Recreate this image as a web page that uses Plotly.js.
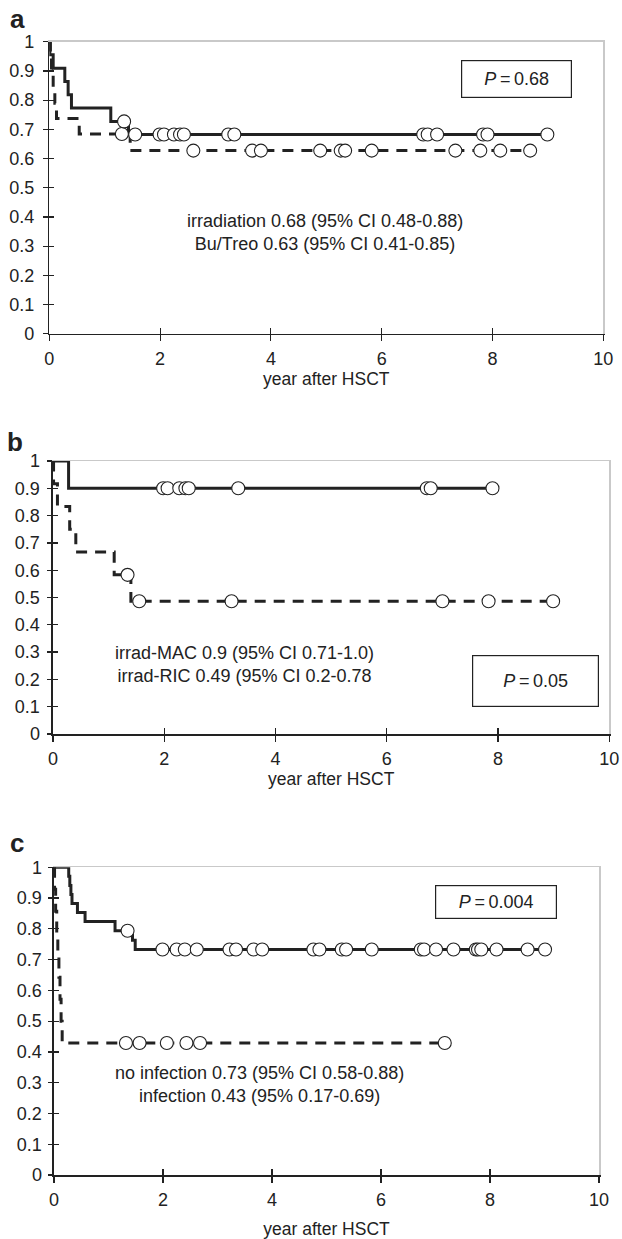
<!DOCTYPE html>
<html><head><meta charset="utf-8">
<script src="https://cdn.plot.ly/plotly-3.0.1.min.js"></script>
<style>html,body{margin:0;padding:0;background:#fff}#chart{width:622px;height:1239px}</style>
</head><body><div id="chart"></div>
<script>
// ---------- Panel a: irradiation vs Bu/Treo ----------
const aSolidEventT = [0.01, 0.07, 0.28, 0.34, 0.40, 1.11, 1.43];
const aSolidEventS = [0.955, 0.909, 0.864, 0.818, 0.773, 0.727, 0.682];
const aSolidCensT  = [1.35, 1.55, 1.99, 2.07, 2.25, 2.36, 2.43, 3.23, 3.34, 6.75, 6.83, 7.00, 7.83, 7.91, 8.99];
const aSolidCensS  = [0.727, 0.682, 0.682, 0.682, 0.682, 0.682, 0.682, 0.682, 0.682, 0.682, 0.682, 0.682, 0.682, 0.682, 0.682];
const aDashEventT  = [0.02, 0.04, 0.07, 0.10, 0.13, 0.54, 1.46];
const aDashEventS  = [0.947, 0.895, 0.842, 0.789, 0.737, 0.684, 0.627];
const aDashCensT   = [1.31, 2.60, 3.66, 3.82, 4.89, 5.26, 5.34, 5.82, 7.33, 7.78, 8.14, 8.68];
const aDashCensS   = [0.684, 0.627, 0.627, 0.627, 0.627, 0.627, 0.627, 0.627, 0.627, 0.627, 0.627, 0.627];
// ---------- Panel b: irrad-MAC vs irrad-RIC ----------
const bSolidEventT = [0.28];
const bSolidEventS = [0.90];
const bSolidCensT  = [1.98, 2.06, 2.27, 2.38, 2.44, 3.33, 6.72, 6.79, 7.90];
const bSolidCensS  = [0.90, 0.90, 0.90, 0.90, 0.90, 0.90, 0.90, 0.90, 0.90];
const bDashEventT  = [0.01, 0.08, 0.30, 0.41, 1.10, 1.40];
const bDashEventS  = [0.917, 0.833, 0.750, 0.667, 0.583, 0.486];
const bDashCensT   = [1.34, 1.55, 3.21, 7.00, 7.83, 8.99];
const bDashCensS   = [0.583, 0.486, 0.486, 0.486, 0.486, 0.486];
// ---------- Panel c: no infection vs infection ----------
const cSolidEventT = [0.27, 0.29, 0.31, 0.33, 0.43, 0.57, 1.12, 1.44, 1.49];
const cSolidEventS = [0.971, 0.941, 0.912, 0.882, 0.853, 0.824, 0.794, 0.763, 0.733];
const cSolidCensT  = [1.35, 1.99, 2.25, 2.40, 2.62, 3.22, 3.34, 3.66, 3.82, 4.76, 4.87, 5.28, 5.36, 5.83, 6.73, 6.79, 7.01, 7.33, 7.74, 7.78, 7.84, 8.12, 8.69, 9.01];
const cSolidCensS  = [0.794, 0.733, 0.733, 0.733, 0.733, 0.733, 0.733, 0.733, 0.733, 0.733, 0.733, 0.733, 0.733, 0.733, 0.733, 0.733, 0.733, 0.733, 0.733, 0.733, 0.733, 0.733, 0.733, 0.733];
const cDashEventT  = [0.01, 0.03, 0.05, 0.07, 0.09, 0.11, 0.13, 0.15];
const cDashEventS  = [0.929, 0.857, 0.786, 0.714, 0.643, 0.571, 0.500, 0.429];
const cDashCensT   = [1.32, 1.57, 2.07, 2.43, 2.68, 7.17];
const cDashCensS   = [0.429, 0.429, 0.429, 0.429, 0.429, 0.429];

const xTickVals = [0, 2, 4, 6, 8, 10];
const yTickVals = [0, 0.1, 0.2, 0.3, 0.4, 0.5, 0.6, 0.7, 0.8, 0.9, 1];
const xTitle = 'year after HSCT';
const panelLetters = ['a', 'b', 'c'];
const statTexts = [
  'irradiation 0.68 (95% CI 0.48-0.88)<br>Bu/Treo 0.63 (95% CI 0.41-0.85)',
  'irrad-MAC 0.9 (95% CI 0.71-1.0)<br>irrad-RIC 0.49 (95% CI 0.2-0.78',
  'no infection 0.73 (95% CI 0.58-0.88)<br>infection 0.43 (95% 0.17-0.69)'
];
const pTexts = ['0.68', '0.05', '0.004'];

// ---------- layout geometry (pixels) ----------
const W = 622, H = 1239;
const FONT = '"Liberation Sans", Arial, Helvetica, sans-serif';
const INK = '#222222';
const panels = [
  {l: 49.3, r: 603.3, t: 41.7, b: 333.7, letter: [17, 19], text: [325, 232.5], box: [516.5, 78.5, 111, 38], stand: 4, ylab: 5},
  {l: 53.0, r: 609.3, t: 461.0, b: 734.0, letter: [15, 442], text: [244, 664], box: [535.5, 681, 127, 52], stand: 2, ylab: 3},
  {l: 54.0, r: 599.0, t: 867.3, b: 1175.0, letter: [17, 843], text: [259, 1084.5], box: [495.5, 902, 122, 34], stand: 15, ylab: 2}
];
const px = v => v / W;
const py = v => 1 - v / H;

function stepXY(evT, evS, endT) {
  return {x: [0].concat(evT, [endT]), y: [1].concat(evS, [evS[evS.length - 1]])};
}

const data = [];
const groups = [
  [aSolidEventT, aSolidEventS, aSolidCensT, aSolidCensS, aDashEventT, aDashEventS, aDashCensT, aDashCensS],
  [bSolidEventT, bSolidEventS, bSolidCensT, bSolidCensS, bDashEventT, bDashEventS, bDashCensT, bDashCensS],
  [cSolidEventT, cSolidEventS, cSolidCensT, cSolidCensS, cDashEventT, cDashEventS, cDashCensT, cDashCensS]
];
const lineTraces = [];
groups.forEach((g, i) => {
  const xa = i === 0 ? 'x' : 'x' + (i + 1);
  const ya = i === 0 ? 'y' : 'y' + (i + 1);
  const [sT, sS, scT, scS, dT, dS, dcT, dcS] = g;
  const s = stepXY(sT, sS, Math.max(...scT));
  const d = stepXY(dT, dS, Math.max(...dcT));
  lineTraces.push(s);
  data.push({x: d.x, y: d.y, xaxis: xa, yaxis: ya, mode: 'lines', line: {shape: 'hv', color: INK, width: 3, dash: '11px,8px'}, hoverinfo: 'skip', showlegend: false});
  data.push({x: s.x, y: s.y, xaxis: xa, yaxis: ya, mode: 'lines', line: {shape: 'hv', color: INK, width: 3}, hoverinfo: 'skip', showlegend: false});
  data.push({x: dcT, y: dcS, xaxis: xa, yaxis: ya, mode: 'markers', marker: {symbol: 'circle', size: 13, color: '#ffffff', line: {color: INK, width: 1.1}}, showlegend: false});
  data.push({x: scT, y: scS, xaxis: xa, yaxis: ya, mode: 'markers', marker: {symbol: 'circle', size: 13, color: '#ffffff', line: {color: INK, width: 1.1}}, showlegend: false});
});

const layout = {
  width: W, height: H,
  margin: {l: 0, r: 0, t: 0, b: 0},
  paper_bgcolor: '#ffffff', plot_bgcolor: '#ffffff',
  font: {family: FONT, color: INK, size: 18},
  showlegend: false,
  annotations: []
};

panels.forEach((p, i) => {
  const n = i + 1;
  const xk = n === 1 ? 'xaxis' : 'xaxis' + n;
  const yk = n === 1 ? 'yaxis' : 'yaxis' + n;
  const xid = n === 1 ? 'x' : 'x' + n;
  const yid = n === 1 ? 'y' : 'y' + n;
  const xd = [px(p.l), px(p.r)];
  const yd = [py(p.b), py(p.t)];
  layout[xk] = {
    domain: xd, anchor: yid, range: [0, 10], tickvals: xTickVals, ticktext: xTickVals.map(String),
    showline: true, linecolor: '#c9c9c9', linewidth: 1.5, mirror: true,
    ticks: 'outside', ticklen: 6, tickwidth: 1.2, tickcolor: INK,
    showgrid: false, zeroline: false, fixedrange: true,
    tickfont: {family: FONT, size: 18, color: INK}, ticklabelstandoff: 2,
    title: {text: xTitle, font: {family: FONT, size: 17.5, color: INK}, standoff: p.stand}
  };
  layout[yk] = {
    domain: yd, anchor: xid, range: [0, 1], tickvals: yTickVals, ticktext: yTickVals.map(String),
    showline: true, linecolor: '#c9c9c9', linewidth: 1.5, mirror: true,
    ticks: 'outside', ticklen: 5, tickwidth: 1.2, tickcolor: INK,
    showgrid: false, zeroline: false, fixedrange: true,
    tickfont: {family: FONT, size: 18, color: INK}, ticklabelstandoff: p.ylab
  };
  // overlay axes: black left/bottom lines with inside ticks (crossing ticks)
  const ox = 'xaxis' + (n + 3), oy = 'yaxis' + (n + 3);
  layout[ox] = {
    overlaying: xid, anchor: 'y' + (n + 3), range: [0, 10], tickvals: xTickVals, side: 'bottom',
    showline: true, linecolor: INK, linewidth: 1.6, ticks: 'inside', ticklen: 6, tickwidth: 1.2, tickcolor: INK,
    showticklabels: false, showgrid: false, zeroline: false, fixedrange: true
  };
  layout[oy] = {
    overlaying: yid, anchor: 'x' + (n + 3), range: [0, 1], tickvals: yTickVals, side: 'left',
    showline: true, linecolor: INK, linewidth: 1.6, ticks: 'inside', ticklen: 5, tickwidth: 1.2, tickcolor: INK,
    showticklabels: false, showgrid: false, zeroline: false, fixedrange: true
  };
  layout.annotations.push({
    xref: 'paper', yref: 'paper', x: px(p.letter[0]), y: py(p.letter[1]), xanchor: 'center', yanchor: 'middle',
    text: '<b>' + panelLetters[i] + '</b>', showarrow: false, font: {family: FONT, size: 26, color: INK}
  });
  layout.annotations.push({
    xref: 'paper', yref: 'paper', x: px(p.text[0]), y: py(p.text[1]), xanchor: 'center', yanchor: 'middle',
    text: statTexts[i], align: 'center', showarrow: false, font: {family: FONT, size: 18, color: INK}
  });
  layout.annotations.push({
    xref: 'paper', yref: 'paper', x: px(p.box[0]), y: py(p.box[1]), xanchor: 'center', yanchor: 'middle',
    width: p.box[2] - 2, height: p.box[3] - 2, borderpad: 0, bordercolor: INK, borderwidth: 1.2, bgcolor: '#ffffff',
    text: '<i>P</i>\u2009=\u2009' + pTexts[i], align: 'center', valign: 'middle', showarrow: false,
    font: {family: FONT, size: 18, color: INK}
  });
});

// invisible copies on the overlay subplots so their axes are drawn
lineTraces.forEach((s, i) => {
  data.unshift({x: s.x, y: s.y, xaxis: 'x' + (i + 4), yaxis: 'y' + (i + 4), mode: 'lines', line: {width: 0, color: 'rgba(0,0,0,0)'}, hoverinfo: 'skip', showlegend: false});
});

Plotly.newPlot('chart', data, layout, {staticPlot: true, displayModeBar: false});
</script>
</body></html>
